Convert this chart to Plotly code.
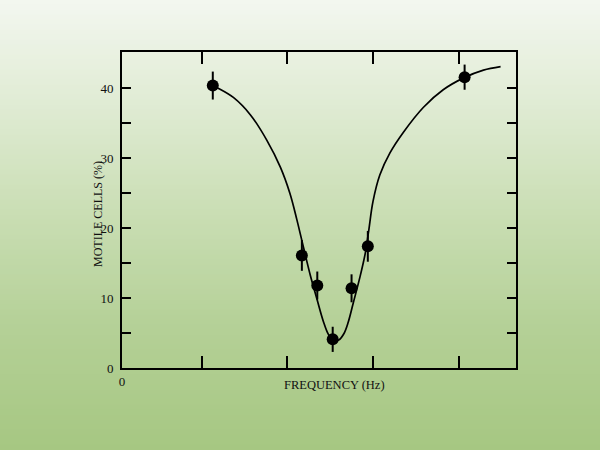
import plotly.graph_objects as go

# Measured data (frequency in arbitrary axis units, motile cells %)
freq = [10.6, 21.0, 22.8, 24.6, 26.8, 28.7, 40.0]
motile = [40.4, 16.1, 11.8, 4.1, 11.4, 17.4, 41.6]
err = [2.0, 2.2, 2.0, 1.8, 2.0, 2.2, 1.8]

# Fitted curve
curve_x = [10.6, 11.1, 13.0, 15.0, 16.9, 18.5, 19.6, 20.4, 21.2, 22.0, 22.75, 23.5, 24.1,
           24.7, 25.3, 25.9, 26.4, 27.0, 27.8, 28.4, 28.8, 29.3, 30.1, 31.3, 32.9, 35.2,
           37.5, 39.9, 42.2, 44.2]
curve_y = [40.4, 40.1, 38.7, 36.2, 32.6, 28.7, 25.0, 21.3, 17.2, 13.2, 9.9, 6.7, 4.8,
           3.9, 4.0, 4.9, 6.5, 9.3, 13.1, 16.4, 19.6, 23.8, 27.6, 30.8, 33.8, 37.3,
           39.8, 41.5, 42.6, 43.1]

x_tick_vals = [0, 9.3, 19.3, 29.3, 39.3]
x_tick_text = ["0", "", "", "", ""]
y_tick_vals = [0, 10, 20, 30, 40]
y_tick_text = ["0", "10", "20", "30", "40"]

fig = go.Figure()
fig.add_trace(go.Scatter(x=curve_x, y=curve_y, mode="lines",
                         line=dict(color="black", width=1.7, shape="spline", smoothing=1.0),
                         showlegend=False, hoverinfo="skip"))
fig.add_trace(go.Scatter(x=freq, y=motile, mode="markers",
                         marker=dict(color="black", size=12),
                         error_y=dict(type="data", array=err, color="black", thickness=2, width=0),
                         showlegend=False))

# Background gradient bands
L, R, T, B = 122, 84, 52, 82
W, H = 600, 450
pw, ph = W - L - R, H - T - B
stops = [(0, (243, 247, 240)), (100, (225, 236, 213)), (220, (200, 221, 178)),
         (330, (180, 208, 150)), (450, (166, 199, 130))]

def col(py):
    for (a, ca), (b, cb) in zip(stops[:-1], stops[1:]):
        if a <= py <= b:
            t = (py - a) / (b - a)
            return "rgb(%d,%d,%d)" % tuple(round(ca[i] + (cb[i] - ca[i]) * t) for i in range(3))
    return "rgb(%d,%d,%d)" % stops[-1][1]

shapes = []
band = 5
for py in range(0, H, band):
    shapes.append(dict(type="rect", xref="paper", yref="paper", layer="below",
                       x0=(0 - L) / pw, x1=(W - L) / pw,
                       y0=(H - B - py - band - 0.5) / ph, y1=(H - B - py + 0.5) / ph,
                       fillcolor=col(py + band / 2), line=dict(width=0)))

fam = "Liberation Serif, DejaVu Serif, serif"
font = dict(family=fam, color="#111", size=13)

fig.update_layout(
    width=W, height=H,
    margin=dict(l=L, r=R, t=T, b=B),
    paper_bgcolor="rgba(0,0,0,0)", plot_bgcolor="rgba(0,0,0,0)",
    font=font,
    shapes=shapes,
    xaxis=dict(range=[0, 46], tickvals=x_tick_vals, ticktext=x_tick_text,
               ticks="inside", ticklen=12, tickwidth=2, tickcolor="black",
               showline=True, linecolor="black", linewidth=2, mirror="ticks",
               showgrid=False, zeroline=False, fixedrange=True),
    yaxis=dict(range=[0, 45.2], tickvals=y_tick_vals, ticktext=y_tick_text,
               ticks="inside", ticklen=9, tickwidth=1.5, tickcolor="black",
               ticklabelstandoff=4,
               minor=dict(tickvals=[5, 15, 25, 35], ticks="inside", ticklen=9,
                          tickwidth=1.5, tickcolor="black"),
               showline=True, linecolor="black", linewidth=2, mirror="ticks",
               showgrid=False, zeroline=False, fixedrange=True),
    annotations=[
        dict(text="FREQUENCY (Hz)", xref="paper", yref="paper",
             x=(334 - L) / pw, y=(H - B - 394) / ph, showarrow=False,
             font=dict(family=fam, size=12.5, color="#111")),
        dict(text="MOTILE CELLS (%)", xref="paper", yref="paper",
             x=(89 - L) / pw, y=(H - B - 214) / ph, showarrow=False, textangle=-90,
             font=dict(family=fam, size=12, color="#111")),
    ],
)

fig.write_html("out.html")
